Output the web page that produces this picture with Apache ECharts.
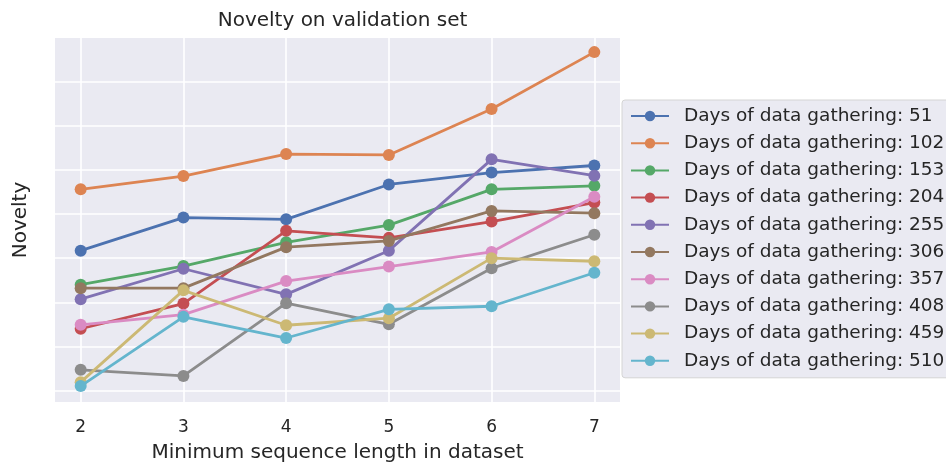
<!DOCTYPE html>
<html>
<head>
<meta charset="utf-8">
<script src="https://cdn.jsdelivr.net/npm/echarts@6/dist/echarts.min.js"></script>
<style>
  html, body { margin: 0; padding: 0; background: #fff; }
  #chart { width: 946px; height: 468px; }
</style>
</head>
<body>
<div id="chart"></div>
<script>
// minimum sequence length (x)
const seqLengths = [2, 3, 4, 5, 6, 7]

// legend labels, one per series
const seriesNames = [
  'Days of data gathering: 51',
  'Days of data gathering: 102',
  'Days of data gathering: 153',
  'Days of data gathering: 204',
  'Days of data gathering: 255',
  'Days of data gathering: 306',
  'Days of data gathering: 357',
  'Days of data gathering: 408',
  'Days of data gathering: 459',
  'Days of data gathering: 510',
]

// novelty values (arbitrary units, y tick labels hidden in the original)
const days51 = [3.17, 3.92, 3.88, 4.67, 4.94, 5.10]
const days102 = [4.56, 4.86, 5.36, 5.34, 6.38, 7.67]
const days153 = [2.40, 2.82, 3.36, 3.75, 4.56, 4.64]
const days204 = [1.40, 1.97, 3.62, 3.46, 3.83, 4.26]
const days255 = [2.07, 2.76, 2.18, 3.17, 5.24, 4.87]
const days306 = [2.32, 2.32, 3.25, 3.39, 4.07, 4.02]
const days357 = [1.49, 1.72, 2.48, 2.81, 3.14, 4.39]
const days408 = [0.47, 0.33, 1.98, 1.50, 2.77, 3.53]
const days459 = [0.19, 2.27, 1.48, 1.64, 3.00, 2.93]
const days510 = [0.10, 1.67, 1.19, 1.84, 1.91, 2.67]

const allValues = [days51, days102, days153, days204, days255, days306, days357, days408, days459, days510]

// seaborn "deep" palette
const COLORS = ['#4C72B0', '#DD8452', '#55A868', '#C44E52', '#8172B3', '#937860', '#DA8BC3', '#8C8C8C', '#CCB974', '#64B5CD']

const FONT = 'DejaVu Sans'
const TEXT = '#262626'

const chart = echarts.init(document.getElementById('chart'))

chart.setOption({
  animation: false,
  color: COLORS,
  textStyle: { fontFamily: FONT },
  title: {
    text: 'Novelty on validation set',
    left: 337.5,
    textAlign: 'center',
    top: 6,
    textStyle: { fontFamily: FONT, fontSize: 20, fontWeight: 'normal', color: TEXT },
  },
  grid: {
    left: 55,
    right: 326,
    top: 38,
    bottom: 65,
    show: true,
    backgroundColor: '#EAEAF2',
    borderWidth: 0,
  },
  legend: {
    orient: 'vertical',
    left: 622,
    top: 100,
    itemWidth: 38,
    itemHeight: 13,
    itemGap: 7.2,
    padding: [6, 12, 7, 8],
    backgroundColor: '#EAEAF2',
    borderColor: '#d4d4d4',
    borderWidth: 1,
    borderRadius: 3,
    textStyle: { fontFamily: FONT, fontSize: 18.5, lineHeight: 20, color: TEXT, padding: [0, 0, 0, 10] },
    data: seriesNames,
  },
  xAxis: {
    type: 'value',
    min: 1.75,
    max: 7.25,
    splitNumber: 5,
    name: 'Minimum sequence length in dataset',
    nameLocation: 'middle',
    nameGap: 41,
    nameTextStyle: { fontFamily: FONT, fontSize: 20, color: TEXT },
    axisLine: { show: false },
    axisTick: { show: false },
    axisLabel: {
      fontFamily: FONT,
      fontSize: 17,
      color: TEXT,
      margin: 17,
      showMinLabel: false,
      showMaxLabel: false,
    },
    splitLine: {
      show: true,
      showMinLine: false,
      showMaxLine: false,
      lineStyle: { color: '#ffffff', width: 1.6 },
    },
  },
  yAxis: {
    type: 'value',
    min: -0.26,
    max: 7.99,
    splitNumber: 8,
    name: 'Novelty',
    nameLocation: 'middle',
    nameGap: 24,
    nameTextStyle: { fontFamily: FONT, fontSize: 20, color: TEXT },
    axisLine: { show: false },
    axisTick: { show: false },
    axisLabel: { show: false },
    splitLine: {
      show: true,
      showMinLine: false,
      showMaxLine: false,
      lineStyle: { color: '#ffffff', width: 1.6 },
    },
  },
  series: allValues.map((vals, i) => ({
    name: seriesNames[i],
    type: 'line',
    data: vals.map((v, j) => [seqLengths[j], v]),
    symbol: 'circle',
    symbolSize: 12,
    lineStyle: { width: 2.8, color: COLORS[i] },
    itemStyle: { color: COLORS[i] },
    z: 2 + i,
  })),
})
</script>
</body>
</html>
